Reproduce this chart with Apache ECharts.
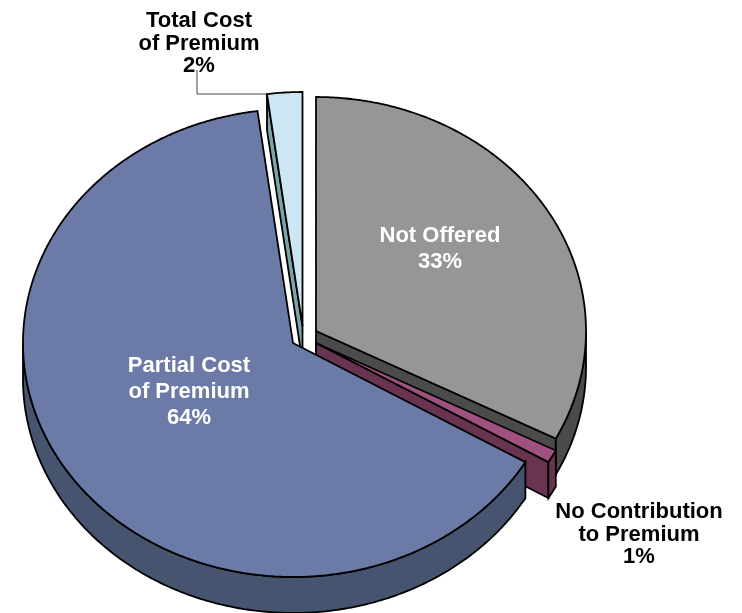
<!DOCTYPE html>
<html><head><meta charset="utf-8">
<style>html,body{margin:0;padding:0;background:#fff}#c{width:742px;height:613px}</style>
<script src="https://cdn.jsdelivr.net/npm/echarts@6/dist/echarts.min.js"></script>
</head><body><div id="c"></div>
<script>
const categories = ['Not Offered', 'No Contribution to Premium', 'Partial Cost of Premium', 'Total Cost of Premium'];
const values = [32.6, 0.9, 64.4, 2.1];
const labelLines = [['Not Offered'], ['No Contribution', 'to Premium'], ['Partial Cost', 'of Premium'], ['Total Cost', 'of Premium']];
const topColors = ['#969696', '#a0527e', '#6c7aa8', '#cce7f3'];
const sideColors = ['#4b4b4b', '#693450', '#475470', '#7ba4a9'];
const labelColors = ['#fff', '#000', '#fff', '#000'];
const apexX = [316, 316, 293, 302.5];
const apexY = [331, 343, 343, 326];
const labelX = [440, 639, 189, 199];
const labelY = [236, 512, 366, 21];
const lineGaps = [26, 22.5, 26, 22.5];
const drawOrder = [0, 1, 3, 2];
const rx = 270, ry = 234, depth = 36;
const leaderIndex = 3, leaderElbow = [197, 70];

const total = values.reduce((a, b) => a + b, 0);
const ends = []; values.reduce((s, v, i) => (ends[i] = s + v / total * 360), 0);
const starts = ends.map((e, i) => (i ? ends[i - 1] : 0));
const rad = d => d * Math.PI / 180;
const rim = (i, d, dy) => [apexX[i] + rx * Math.sin(rad(d)), apexY[i] - ry * Math.cos(rad(d)) + (dy || 0)];
const arc = (i, a, b, dy) => { const p = [], n = Math.max(2, Math.ceil((b - a) * 2));
  for (let k = 0; k <= n; k++) p.push(rim(i, a + (b - a) * k / n, dy)); return p; };
const poly = (points, fill, z2) => ({ type: 'polygon', z2, shape: { points },
  style: { fill, stroke: '#000', lineWidth: 1.8, lineJoin: 'miter' } });

function renderItem(params) {
  const i = params.dataIndex, a = starts[i], b = ends[i], o = drawOrder.indexOf(i) * 10;
  const top = topColors[i], side = sideColors[i], kids = [];
  const A = [apexX[i], apexY[i]], A2 = [A[0], A[1] + depth];
  const wa = Math.max(a, 90), wb = Math.min(b, 270);
  if (Math.sin(rad(b)) > 1e-6) kids.push(poly([A, rim(i, b), rim(i, b, depth), A2], side, o + 1));
  if (Math.sin(rad(a)) < -1e-6) kids.push(poly([A, rim(i, a), rim(i, a, depth), A2], side, o + 1));
  if (wb > wa) kids.push(poly(arc(i, wa, wb).concat(arc(i, wa, wb, depth).reverse()), side, o + 2));
  kids.push(poly([A].concat(arc(i, a, b)), top, o + 3));
  if (i === leaderIndex) {
    const s = rim(i, a);
    kids.push({ type: 'polyline', z2: o, shape: { points: [leaderElbow, [leaderElbow[0], s[1]], s] },
      style: { fill: null, stroke: '#444', lineWidth: 1 } });
  }
  const lines = labelLines[i].concat(Math.round(values[i]) + '%');
  lines.forEach((t, k) => kids.push({ type: 'text', z2: 100, style: {
    x: labelX[i], y: labelY[i] + k * lineGaps[i], text: t, fill: labelColors[i],
    font: 'bold 22px "Liberation Sans", Arial, sans-serif', align: 'center', verticalAlign: 'middle' } }));
  return { type: 'group', children: kids };
}
const chart = echarts.init(document.getElementById('c'), null, { renderer: 'canvas' });
chart.setOption({
  animation: false, backgroundColor: '#fff',
  series: [{ type: 'custom', coordinateSystem: 'none', renderItem, silent: true,
    data: categories.map((name, i) => ({ name, value: values[i] })) }]
});
</script></body></html>
